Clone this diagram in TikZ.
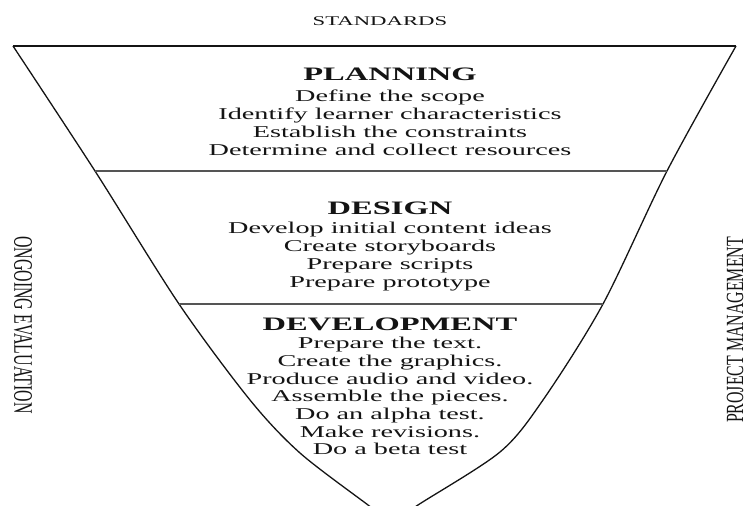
\documentclass[tikz,border=0pt]{standalone}
\usepackage{fontspec}
\setmainfont{Liberation Serif}[FakeStretch=1.71]
\newfontfamily\rotfont{Liberation Serif}
\definecolor{ink}{HTML}{141414}
\definecolor{divider}{HTML}{555555}
\begin{document}
\begin{tikzpicture}[x=1pt,y=-1pt,
  rim/.style={line width=2.4pt, ink},
  sideline/.style={line width=1.3pt, ink, line join=round},
  divline/.style={line width=1.5pt, divider},
  head/.style={anchor=base, inner sep=0pt, text=ink, font=\fontsize{19}{21}\selectfont\bfseries},
  item/.style={anchor=base, inner sep=0pt, text=ink, font=\fontsize{16.5}{18}\selectfont},
  sidelabel/.style={inner sep=0pt, text=ink, font=\rotfont\fontsize{15.9}{18}\selectfont}]
\useasboundingbox (0,0) rectangle (748,506);
\clip (0,0) rectangle (748,506);
% funnel outline
\coordinate (tl) at (13,46);
\coordinate (tr) at (736,46);
\coordinate (l2) at (95,171);
\coordinate (r2) at (667,171);
\coordinate (l3) at (179,304);
\coordinate (r3) at (603,304);
\draw[sideline] plot[smooth, tension=0.5] coordinates {(13,46) (95,171) (179,304) (250,400) (300,453) (368,505) (382,516) (393,530)};
\draw[sideline] plot[smooth, tension=0.5] coordinates {(736,46) (667,171) (603,304) (543,400) (500,452) (418,505) (404,516) (393,530)};
\draw[rim] (tl) -- (tr);
\draw[divline] (l2) -- (r2);
\draw[divline] (l3) -- (r3);
% labels
\node[anchor=base, inner sep=0pt, text=ink, font=\fontsize{13.3}{15}\selectfont] (std) at (380,25) {STANDARDS};
\node[sidelabel, rotate=-90] (ongo) at (23,325) {\scalebox{1}[1.68]{ONGOING EVALUATION}};
\node[sidelabel, rotate=90] (pm) at (735,330) {\scalebox{1}[1.55]{PROJECT MANAGEMENT}};
% planning
\node[head] (plan) at (390,80) {PLANNING};
\node[item] (p1) at (390,101) {Define the scope};
\node[item] (p2) at (390,119) {Identify learner characteristics};
\node[item] (p3) at (390,137) {Establish the constraints};
\node[item] (p4) at (390,155) {Determine and collect resources};
% design
\node[head] (des) at (390,214) {DESIGN};
\node[item] (d1) at (390,233) {Develop initial content ideas};
\node[item] (d2) at (390,251) {Create storyboards};
\node[item] (d3) at (390,269) {Prepare scripts};
\node[item] (d4) at (390,287) {Prepare prototype};
% development
\node[head] (dev) at (390,330) {DEVELOPMENT};
\node[item] (v1) at (390,348) {Prepare the text.};
\node[item] (v2) at (390,366) {Create the graphics.};
\node[item] (v3) at (390,384) {Produce audio and video.};
\node[item] (v4) at (390,401) {Assemble the pieces.};
\node[item] (v5) at (390,419) {Do an alpha test.};
\node[item] (v6) at (390,437) {Make revisions.};
\node[item] (v7) at (390,454) {Do a beta test};
\end{tikzpicture}
\end{document}
